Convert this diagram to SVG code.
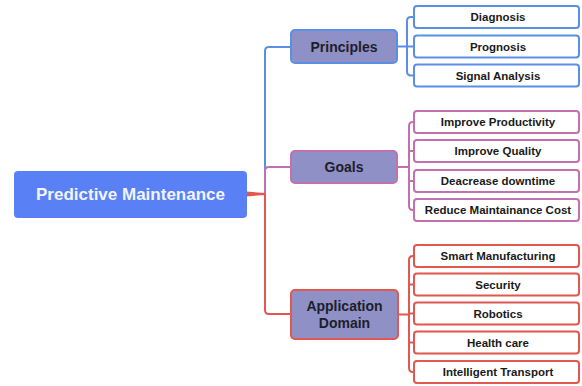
<svg xmlns="http://www.w3.org/2000/svg" width="582" height="386" viewBox="0 0 582 386">
<style>
text{font-family:"Liberation Sans",Arial,sans-serif;font-weight:bold;text-anchor:middle;dominant-baseline:central}
.root rect{fill:#5a80f6}
.root text{fill:#f2f4fb;font-size:17px}
.mid rect{fill:#8e90c6;stroke-width:2}
.mid text{fill:#1e1e2a;font-size:14px}
.leaf rect{fill:#fff;stroke-width:2}
.leaf text{fill:#1a1a1a;font-size:11.5px}
.b{stroke:#5b8fe6}
.p{stroke:#c270b0}
.r{stroke:#e2574f}
#connectors path{fill:none;stroke-width:2;stroke-linecap:round;stroke-linejoin:round}
</style>
<g id="connectors">
<path class="b" d="M265 194 V51 Q265 47 269 47 H291"/>
<path class="p" d="M265 194 V171 Q265 167 269 167 H291"/>
<path class="r" d="M265 194 V310 Q265 314 269 314 H291"/>
<polygon points="246,191.5 246,196.5 265,195 265,193" fill="#e2574f"/>
<path class="b" d="M397 46.5 H407"/>
<path class="b" d="M413 17 H411 Q407 17 407 21 V71.5 Q407 75.5 411 75.5 H413 M407 46.5 H413"/>
<path class="p" d="M397 167 H409"/>
<path class="p" d="M414 122 H413 Q409 122 409 126 V206 Q409 210 413 210 H414 M409 151 H414 M409 181 H414"/>
<path class="r" d="M398 314.5 H409"/>
<path class="r" d="M414 256 H413 Q409 256 409 260 V368 Q409 372 413 372 H414 M409 284.5 H414 M409 313.5 H414 M409 342.5 H414"/>
</g>
<g id="root" class="root"><rect x="14" y="171" width="233" height="47" rx="4"/><text x="130.5" y="194.5">Predictive Maintenance</text></g>
<g id="principles" class="mid"><rect class="b" x="291" y="30" width="106" height="33" rx="4"/><text x="344" y="46.5">Principles</text></g>
<g id="goals" class="mid"><rect class="p" x="291" y="151" width="106" height="32" rx="4"/><text x="344" y="167">Goals</text></g>
<g id="application" class="mid"><rect class="r" x="291" y="290" width="107" height="49" rx="4"/><text x="344.5" y="306">Application</text><text x="344.5" y="323">Domain</text></g>
<g id="diagnosis" class="leaf"><rect class="b" x="414" y="6" width="165" height="22" rx="3"/><text x="498" y="17">Diagnosis</text></g>
<g id="prognosis" class="leaf"><rect class="b" x="414" y="35.5" width="165" height="22" rx="3"/><text x="498" y="46.5">Prognosis</text></g>
<g id="signal" class="leaf"><rect class="b" x="414" y="64.5" width="165" height="22" rx="3"/><text x="498" y="75.5">Signal Analysis</text></g>
<g id="productivity" class="leaf"><rect class="p" x="414" y="111" width="165" height="22" rx="3"/><text x="498" y="122">Improve Productivity</text></g>
<g id="quality" class="leaf"><rect class="p" x="414" y="140" width="165" height="22" rx="3"/><text x="498" y="151">Improve Quality</text></g>
<g id="downtime" class="leaf"><rect class="p" x="414" y="170" width="165" height="22" rx="3"/><text x="498" y="181">Deacrease downtime</text></g>
<g id="cost" class="leaf"><rect class="p" x="414" y="199" width="165" height="22" rx="3"/><text x="498" y="210">Reduce Maintainance Cost</text></g>
<g id="smart" class="leaf"><rect class="r" x="414" y="245" width="165" height="22" rx="3"/><text x="498" y="256">Smart Manufacturing</text></g>
<g id="security" class="leaf"><rect class="r" x="414" y="273.5" width="165" height="22" rx="3"/><text x="498" y="284.5">Security</text></g>
<g id="robotics" class="leaf"><rect class="r" x="414" y="302.5" width="165" height="22" rx="3"/><text x="498" y="313.5">Robotics</text></g>
<g id="health" class="leaf"><rect class="r" x="414" y="331.5" width="165" height="22" rx="3"/><text x="498" y="342.5">Health care</text></g>
<g id="transport" class="leaf"><rect class="r" x="414" y="361" width="165" height="22" rx="3"/><text x="498" y="372">Intelligent Transport</text></g>
</svg>
